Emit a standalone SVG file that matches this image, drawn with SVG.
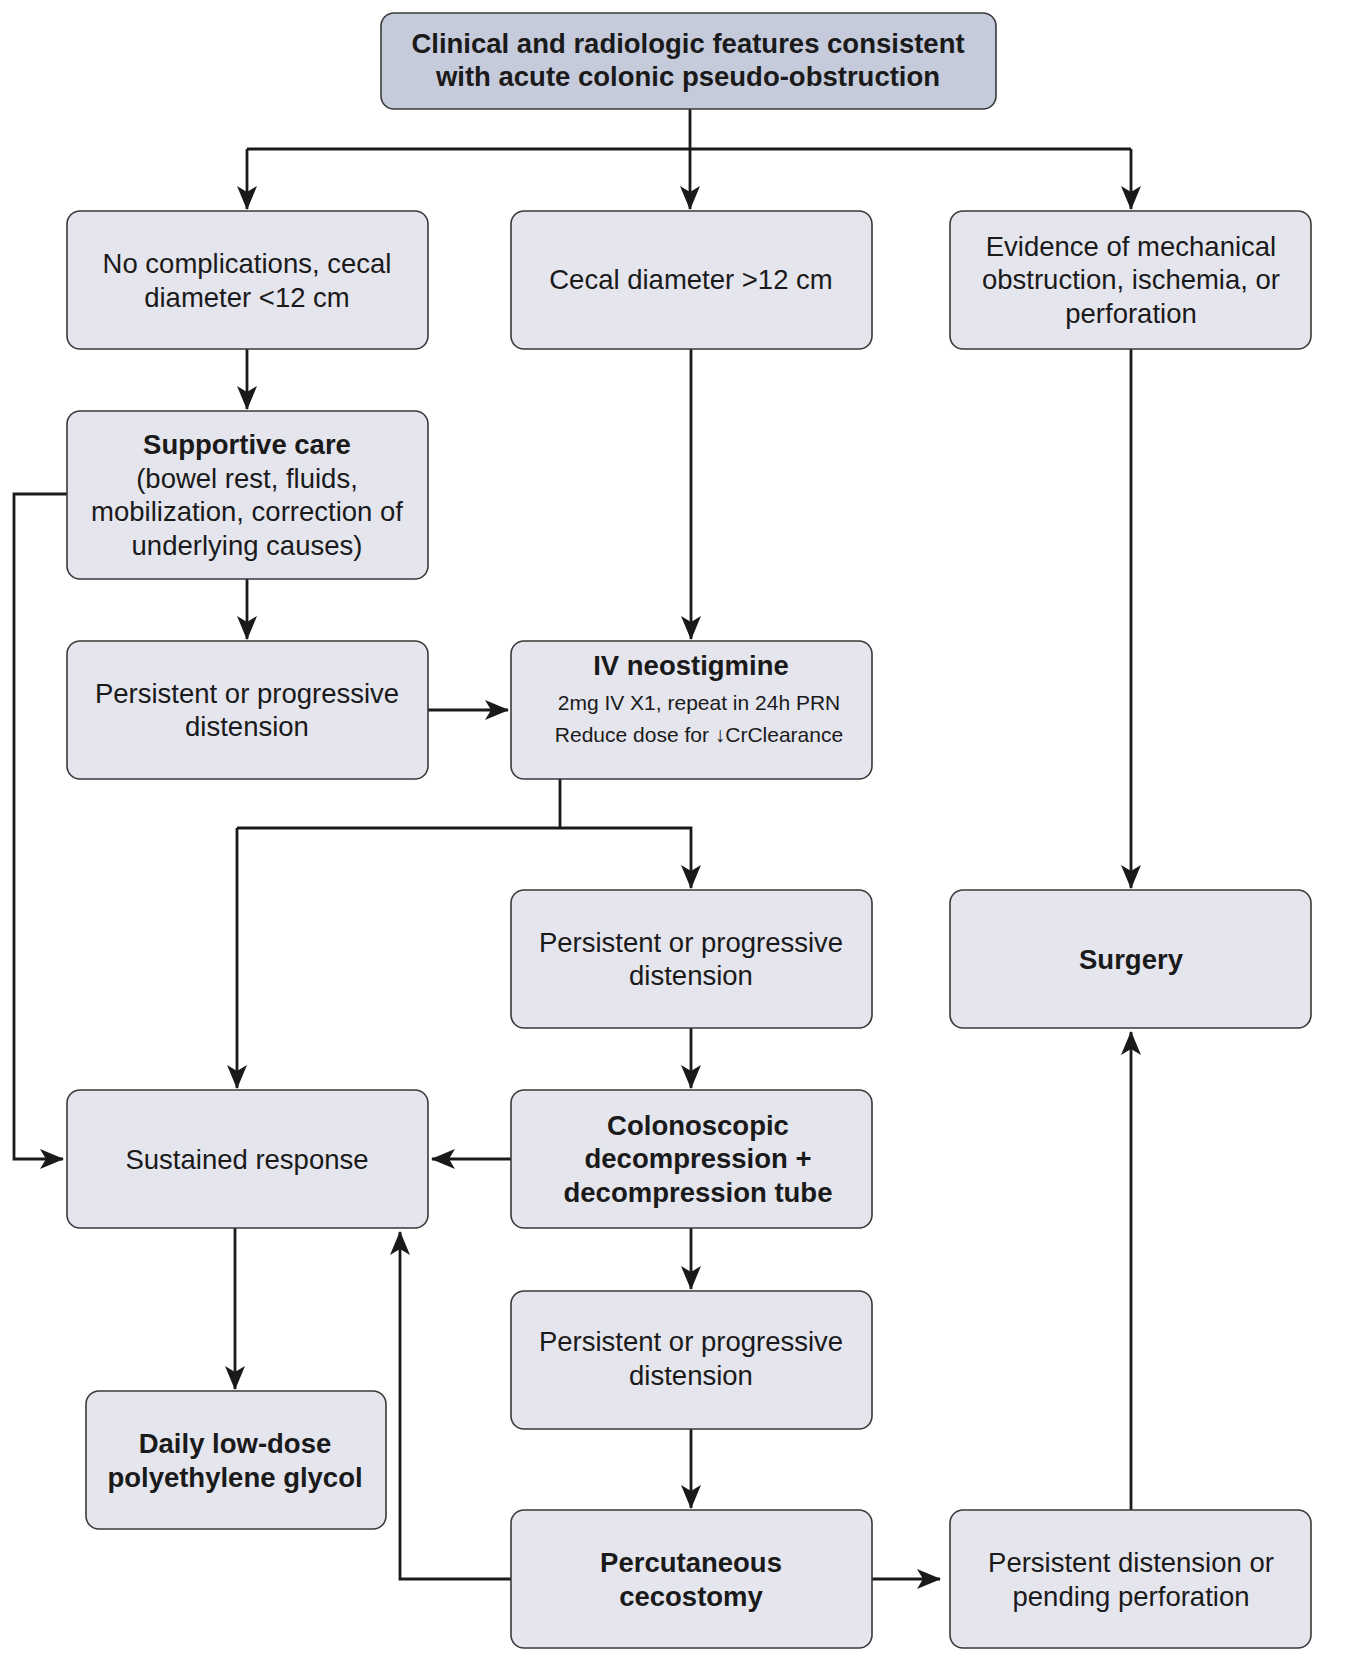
<svg xmlns="http://www.w3.org/2000/svg" width="1352" height="1662" viewBox="0 0 1352 1662">
<style>
.box{fill:#e5e5ee;stroke:#3a3a3a;stroke-width:1.6}
.top{fill:#c6cbdc;stroke:#3a3a3a;stroke-width:1.6}
text{font-family:"Liberation Sans",Arial,sans-serif;font-size:27.5px;fill:#1a1a1a;text-anchor:middle}
.b{font-weight:bold}
.s{font-size:21px}
.c{fill:none;stroke:#1a1a1a;stroke-width:2.8}
</style>
<defs>
<marker id="ah" markerUnits="userSpaceOnUse" markerWidth="24" markerHeight="20" viewBox="0 0 24 20" refX="23" refY="10" orient="auto">
<path d="M0,0 L24,10 L0,20 L6,10 z" fill="#1a1a1a"/>
</marker>
</defs>
<rect width="1352" height="1662" fill="#ffffff"/>
<g id="connectors">
<path class="c" d="M690,109 V149"/>
<path class="c" d="M247,149 H1131"/>
<path class="c" d="M247,149 V209" marker-end="url(#ah)"/>
<path class="c" d="M690,149 V209" marker-end="url(#ah)"/>
<path class="c" d="M1131,149 V209" marker-end="url(#ah)"/>
<path class="c" d="M247,349 V409" marker-end="url(#ah)"/>
<path class="c" d="M247,579 V639" marker-end="url(#ah)"/>
<path class="c" d="M67,494 H14 V1159 H63" marker-end="url(#ah)"/>
<path class="c" d="M428,710 H508" marker-end="url(#ah)"/>
<path class="c" d="M691,349 V639" marker-end="url(#ah)"/>
<path class="c" d="M560,779 V828"/>
<path class="c" d="M237,828 H691 V888" marker-end="url(#ah)"/>
<path class="c" d="M237,828 V1088" marker-end="url(#ah)"/>
<path class="c" d="M691,1028 V1088" marker-end="url(#ah)"/>
<path class="c" d="M511,1159 H432" marker-end="url(#ah)"/>
<path class="c" d="M691,1228 V1289" marker-end="url(#ah)"/>
<path class="c" d="M691,1429 V1508" marker-end="url(#ah)"/>
<path class="c" d="M235,1228 V1389" marker-end="url(#ah)"/>
<path class="c" d="M511,1579 H400 V1232" marker-end="url(#ah)"/>
<path class="c" d="M872,1579 H940" marker-end="url(#ah)"/>
<path class="c" d="M1131,1510 V1032" marker-end="url(#ah)"/>
<path class="c" d="M1131,349 V888" marker-end="url(#ah)"/>
</g>
<g id="n-start">
<rect class="top" x="381" y="13" width="615" height="96" rx="13"/>
<text class="b" x="688" y="53">Clinical and radiologic features consistent</text>
<text class="b" x="688" y="86">with acute colonic pseudo-obstruction</text>
</g>
<g id="n-nocomp">
<rect class="box" x="67" y="211" width="361" height="138" rx="13"/>
<text x="247" y="273">No complications, cecal</text>
<text x="247" y="307">diameter &lt;12 cm</text>
</g>
<g id="n-cecal">
<rect class="box" x="511" y="211" width="361" height="138" rx="13"/>
<text x="691" y="289">Cecal diameter &gt;12 cm</text>
</g>
<g id="n-evidence">
<rect class="box" x="950" y="211" width="361" height="138" rx="13"/>
<text x="1131" y="256">Evidence of mechanical</text>
<text x="1131" y="289">obstruction, ischemia, or</text>
<text x="1131" y="323">perforation</text>
</g>
<g id="n-supportive">
<rect class="box" x="67" y="411" width="361" height="168" rx="13"/>
<text class="b" x="247" y="454">Supportive care</text>
<text x="247" y="488">(bowel rest, fluids,</text>
<text x="247" y="521">mobilization, correction of</text>
<text x="247" y="555">underlying causes)</text>
</g>
<g id="n-persist1">
<rect class="box" x="67" y="641" width="361" height="138" rx="13"/>
<text x="247" y="703">Persistent or progressive</text>
<text x="247" y="736">distension</text>
</g>
<g id="n-neostigmine">
<rect class="box" x="511" y="641" width="361" height="138" rx="13"/>
<text class="b" x="691" y="675">IV neostigmine</text>
<text class="s" x="699" y="710">2mg IV X1, repeat in 24h PRN</text>
<text class="s" x="699" y="742">Reduce dose for ↓CrClearance</text>
</g>
<g id="n-persist2">
<rect class="box" x="511" y="890" width="361" height="138" rx="13"/>
<text x="691" y="952">Persistent or progressive</text>
<text x="691" y="985">distension</text>
</g>
<g id="n-surgery">
<rect class="box" x="950" y="890" width="361" height="138" rx="13"/>
<text class="b" x="1131" y="969">Surgery</text>
</g>
<g id="n-sustained">
<rect class="box" x="67" y="1090" width="361" height="138" rx="13"/>
<text x="247" y="1169">Sustained response</text>
</g>
<g id="n-colonoscopic">
<rect class="box" x="511" y="1090" width="361" height="138" rx="13"/>
<text class="b" x="698" y="1135">Colonoscopic</text>
<text class="b" x="698" y="1168">decompression +</text>
<text class="b" x="698" y="1202">decompression tube</text>
</g>
<g id="n-persist3">
<rect class="box" x="511" y="1291" width="361" height="138" rx="13"/>
<text x="691" y="1351">Persistent or progressive</text>
<text x="691" y="1385">distension</text>
</g>
<g id="n-peg">
<rect class="box" x="86" y="1391" width="300" height="138" rx="13"/>
<text class="b" x="235" y="1453">Daily low-dose</text>
<text class="b" x="235" y="1487">polyethylene glycol</text>
</g>
<g id="n-cecostomy">
<rect class="box" x="511" y="1510" width="361" height="138" rx="13"/>
<text class="b" x="691" y="1572">Percutaneous</text>
<text class="b" x="691" y="1606">cecostomy</text>
</g>
<g id="n-pending">
<rect class="box" x="950" y="1510" width="361" height="138" rx="13"/>
<text x="1131" y="1572">Persistent distension or</text>
<text x="1131" y="1606">pending perforation</text>
</g>
</svg>
